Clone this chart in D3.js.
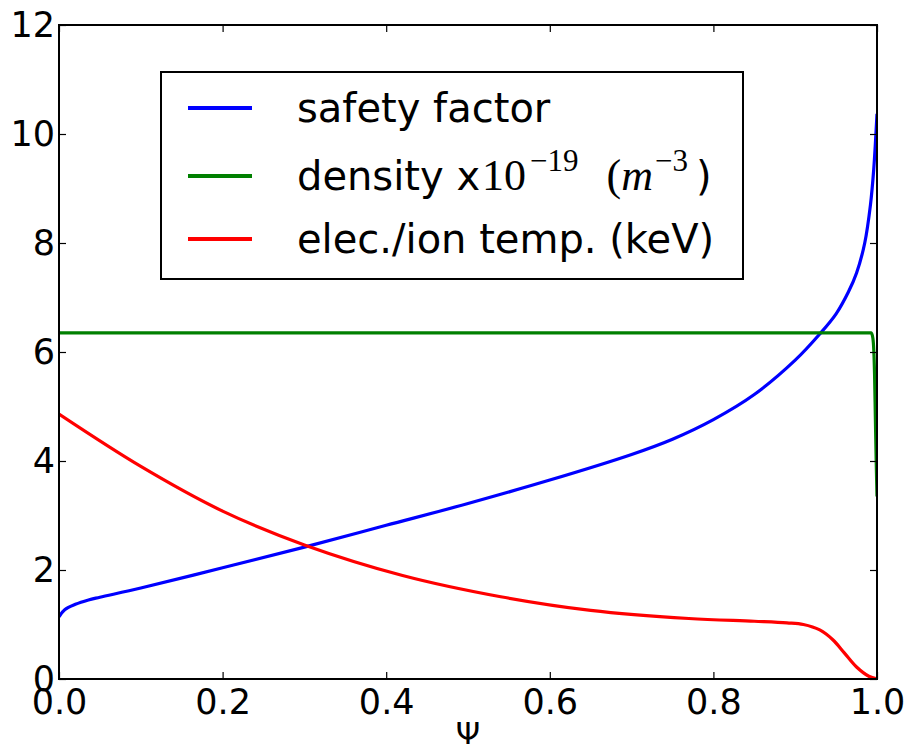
<!DOCTYPE html>
<html>
<head>
<meta charset="utf-8">
<script src="https://cdn.jsdelivr.net/npm/d3@7"></script>
<style>
  body { margin: 0; background: #fff; }
  text { font-family: "DejaVu Sans", sans-serif; }
</style>
</head>
<body>
<script>
// safety factor
const safetyPsi = [0, 0.007, 0.02, 0.036, 0.05, 0.1, 0.2, 0.3, 0.4, 0.5, 0.6, 0.7, 0.75, 0.8, 0.85, 0.9, 0.93, 0.95, 0.965, 0.975, 0.985, 0.992, 0.996, 1.0];
const safety    = [1.14, 1.27, 1.37, 1.45, 1.5, 1.67, 2.04, 2.42, 2.82, 3.22, 3.65, 4.12, 4.4, 4.76, 5.22, 5.85, 6.33, 6.7, 7.1, 7.45, 8.0, 8.7, 9.35, 10.37];

// density x1e-19
const densityPsi = [0, 0.5, 0.993, 0.995, 0.997, 0.998, 0.999, 1.0];
const density    = [6.35, 6.35, 6.35, 6.25, 5.6, 4.8, 4.0, 3.35];

// elec./ion temperature
const tempPsi = [0, 0.1, 0.2, 0.3, 0.42, 0.54, 0.65, 0.77, 0.85, 0.89, 0.91, 0.93, 0.946, 0.96, 0.975, 0.99, 1.0];
const temp    = [4.86, 3.9, 3.08, 2.46, 1.9, 1.51, 1.26, 1.11, 1.06, 1.03, 1.0, 0.9, 0.72, 0.48, 0.22, 0.05, 0];

const xTicks = [0, 0.2, 0.4, 0.6, 0.8, 1.0];
const yTicks = [0, 2, 4, 6, 8, 10, 12];

const width = 913;
const height = 750;
const margin = {left: 59, right: 36, top: 25, bottom: 71};

const svg = d3.select('body').append('svg')
  .attr('width', width)
  .attr('height', height);

const x = d3.scaleLinear().domain([0, 1]).range([margin.left, width - margin.right]);
const y = d3.scaleLinear().domain([0, 12]).range([height - margin.bottom, margin.top]);

svg.append('clipPath').attr('id', 'plotclip')
  .append('rect')
  .attr('x', x(0)).attr('y', y(12))
  .attr('width', x(1) - x(0)).attr('height', y(0) - y(12));

const series = [
  {name: 'safety', psi: safetyPsi, vals: safety, color: '#0000ff', curve: d3.curveCatmullRom.alpha(0.5)},
  {name: 'density', psi: densityPsi, vals: density, color: '#008000', curve: d3.curveMonotoneX},
  {name: 'temp', psi: tempPsi, vals: temp, color: '#ff0000', curve: d3.curveCatmullRom.alpha(0.5)}
];

const g = svg.append('g').attr('clip-path', 'url(#plotclip)');
g.selectAll('path')
  .data(series)
  .join('path')
  .attr('d', s => d3.line()
    .x(d => x(d[0]))
    .y(d => y(d[1]))
    .curve(s.curve)(s.psi.map((p, i) => [p, s.vals[i]])))
  .attr('fill', 'none')
  .attr('stroke', s => s.color)
  .attr('stroke-width', 3.2)
  .attr('stroke-linejoin', 'round');

// axes, ticks pointing inward on all four sides
const tickLen = 7;
svg.append('g')
  .attr('transform', `translate(0,${y(0)})`)
  .call(d3.axisBottom(x).tickValues(xTicks).tickSizeInner(-tickLen).tickSizeOuter(0).tickPadding(10).tickFormat(d3.format('.1f')))
  .call(a => a.select('.domain').remove())
  .selectAll('text').attr('font-size', 35).attr('fill', '#000')
  .attr('font-family', 'DejaVu Sans');

svg.append('g')
  .attr('transform', `translate(0,${y(12)})`)
  .call(d3.axisTop(x).tickValues(xTicks).tickSizeInner(-tickLen).tickSizeOuter(0).tickFormat(''))
  .call(a => a.select('.domain').remove());

svg.append('g')
  .attr('transform', `translate(${x(0)},0)`)
  .call(d3.axisLeft(y).tickValues(yTicks).tickSizeInner(-tickLen).tickSizeOuter(0).tickPadding(4))
  .call(a => a.select('.domain').remove())
  .selectAll('text').attr('font-size', 35).attr('fill', '#000')
  .attr('font-family', 'DejaVu Sans');

svg.append('g')
  .attr('transform', `translate(${x(1)},0)`)
  .call(d3.axisRight(y).tickValues(yTicks).tickSizeInner(-tickLen).tickSizeOuter(0).tickFormat(''))
  .call(a => a.select('.domain').remove());

svg.selectAll('.tick line').attr('stroke', '#000').attr('stroke-width', 1.2);

// frame
svg.append('rect')
  .attr('x', x(0)).attr('y', y(12))
  .attr('width', x(1) - x(0)).attr('height', y(0) - y(12))
  .attr('fill', 'none')
  .attr('stroke', '#000')
  .attr('stroke-width', 2);

// x label
svg.append('text')
  .attr('x', x(0.5)).attr('y', 744)
  .attr('text-anchor', 'middle')
  .attr('font-family', 'DejaVu Serif')
  .attr('font-size', 31)
  .text('\u03A8');

// legend
const legend = svg.append('g');
legend.append('rect')
  .attr('x', 161).attr('y', 72).attr('width', 582).attr('height', 207)
  .attr('fill', '#fff').attr('stroke', '#000').attr('stroke-width', 2);

const rowY = [108, 176, 239];
legend.selectAll('line')
  .data(series)
  .join('line')
  .attr('x1', 188).attr('x2', 252)
  .attr('y1', (d, i) => rowY[i]).attr('y2', (d, i) => rowY[i])
  .attr('stroke', d => d.color)
  .attr('stroke-width', 4);

legend.append('text')
  .attr('x', 297).attr('y', rowY[0] + 14)
  .attr('font-size', 40)
  .text('safety factor');

const serif = 'Liberation Serif, serif';
const dens = legend.append('text')
  .attr('x', 297).attr('y', rowY[1] + 14)
  .attr('font-size', 40);
dens.append('tspan').text('density x');
dens.append('tspan').attr('font-family', serif).attr('font-size', 44).attr('dx', 2).text('10');
dens.append('tspan').attr('font-family', serif).attr('font-size', 31).attr('dy', -19).attr('dx', 4).text('\u221219');
dens.append('tspan').attr('font-family', serif).attr('font-size', 44).attr('dy', 19).attr('dx', 28).text('(');
dens.append('tspan').attr('font-family', serif).attr('font-style', 'italic').attr('font-size', 44).text('m');
dens.append('tspan').attr('font-family', serif).attr('font-size', 31).attr('dy', -19).attr('dx', 2).text('\u22123');
dens.append('tspan').attr('dy', 19).attr('dx', 8).text(')');

legend.append('text')
  .attr('x', 297).attr('y', rowY[2] + 14)
  .attr('font-size', 40)
  .text('elec./ion temp. (keV)');
</script>
</body>
</html>
